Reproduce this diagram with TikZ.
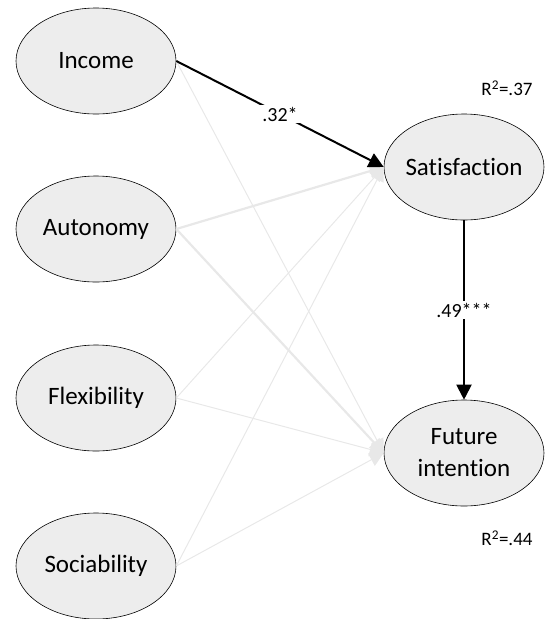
\documentclass[tikz,border=0pt]{standalone}
\usepackage{fontspec}
\setmainfont{Carlito}[Ligatures=NoCommon]
\usetikzlibrary{arrows.meta,shapes.geometric}
\begin{document}
\begin{tikzpicture}[x=1pt,y=-1pt,
  latent/.style={ellipse,draw=black,line width=0.6pt,fill=black!7,
    minimum width=160pt,minimum height=106pt,inner xsep=-25pt,inner ysep=0pt,
    align=center,font=\fontsize{25}{32}\selectfont},
  sigpath/.style={draw=black,line width=2pt,
    -{Triangle[length=15pt,width=15pt]}},
  nspath/.style={draw=black!9,line width=1pt,
    -{Triangle[length=14pt,width=14pt,fill=black!9]}},
  nsthick/.style={nspath,line width=2.2pt},
  coef/.style={fill=white,inner sep=2pt,font=\fontsize{20}{22}\selectfont},
  rsq/.style={font=\fontsize{19}{22}\selectfont}]
\useasboundingbox (0,0) rectangle (545,619);

% predictors
\node[latent] (inc) at (96,61) {Income};
\node[latent] (aut) at (96,229) {Autonomy};
\node[latent] (flx) at (96,398) {Flexibility};
\node[latent] (soc) at (96,566) {Sociability};

% outcomes
\node[latent] (sat) at (464,167) {Satisfaction};
\node[latent] (fut) at (464,453) {Future\\intention};

% non-significant paths
\draw[nspath]  (inc.east) -- (fut.west);
\draw[nsthick] (aut.east) -- (sat.west);
\draw[nsthick] (aut.east) -- (fut.west);
\draw[nspath]  (flx.east) -- (sat.west);
\draw[nspath]  (flx.east) -- (fut.west);
\draw[nspath]  (soc.east) -- (sat.west);
\draw[nspath]  (soc.east) -- (fut.west);

% significant paths
\draw[sigpath] (inc.east) -- node[coef] {.32*} (sat.west);
\draw[sigpath] (sat.south) -- node[coef] {.49***} (fut.north);

% explained variance
\node[rsq] (r1) at (507,88) {R\textsuperscript{2}=.37};
\node[rsq] (r2) at (507,538) {R\textsuperscript{2}=.44};
\end{tikzpicture}
\end{document}
